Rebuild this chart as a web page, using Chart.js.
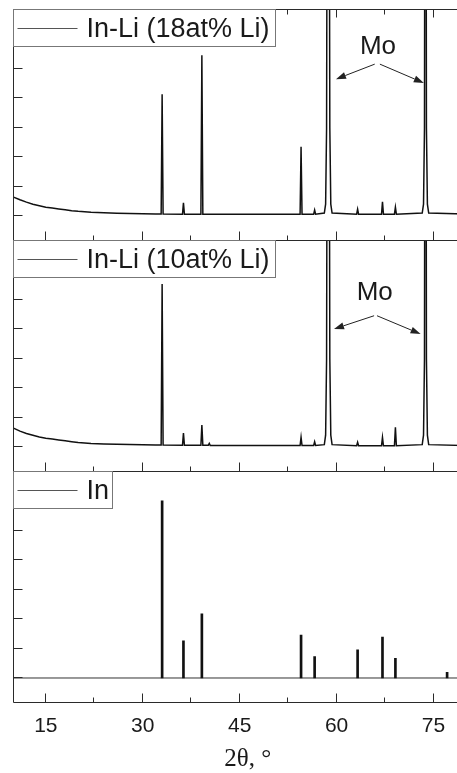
<!DOCTYPE html>
<html>
<head>
<meta charset="utf-8">
<script src="https://cdn.jsdelivr.net/npm/chart.js@4.4.1/dist/chart.umd.min.js"></script>
<style>
  html, body { margin: 0; padding: 0; background: #fff; overflow: hidden; }
  #wrap { position: relative; width: 457px; height: 773px; overflow: hidden; }
  canvas { position: absolute; left: 0; }
</style>
</head>
<body>
<div id="wrap">
  <canvas id="p-li18" width="482" height="246" style="top:0"></canvas>
  <canvas id="p-li10" width="482" height="241" style="top:236px"></canvas>
  <canvas id="p-in" width="482" height="316" style="top:467px"></canvas>
</div>
<script>
// axis ticks
const xTicks = [15, 30, 45, 60, 75];
const xMinorTicks = [22.5, 37.5, 52.5, 67.5, 82.5];
const yTicks = [0, 1, 2, 3, 4, 5, 6, 7];

// In-Li 18at% Li pattern (2theta, intensity in tick units)
const li18X = [10, 11, 12, 13, 14, 15, 16, 17, 18, 19, 20, 22, 24, 26, 28, 30, 32,
  32.85, 33, 33.15, 36.15, 36.3, 36.45, 39, 39.15, 39.3, 54.35, 54.5, 54.65, 56.45, 56.6, 56.75,
  58.1, 58.3, 58.45, 58.7, 58.95, 59.1, 59.3, 63.1, 63.25, 63.4, 66.95, 67.1, 67.25, 68.95, 69.1, 69.25,
  73.25, 73.45, 73.6, 73.75, 73.9, 74.05, 74.25, 82.5];
const li18Y = [0.64, 0.55, 0.47, 0.4, 0.35, 0.3, 0.27, 0.24, 0.21, 0.18, 0.16, 0.13, 0.11, 0.095, 0.085, 0.075, 0.07,
  0.07, 4.14, 0.07, 0.06, 0.45, 0.06, 0.06, 5.46, 0.06, 0.06, 2.35, 0.06, 0.06, 0.2, 0.06,
  0.1, 0.4, 3, 30, 3, 0.4, 0.1, 0.06, 0.23, 0.06, 0.06, 0.48, 0.06, 0.06, 0.3, 0.06,
  0.1, 0.4, 3, 30, 3, 0.4, 0.1, 0.05];

// In-Li 10at% Li pattern
const li10X = [10, 11, 12, 13, 14, 15, 16, 17, 18, 19, 20, 22, 24, 26, 28, 30, 32,
  32.85, 33, 33.15, 36.15, 36.3, 36.45, 39, 39.15, 39.3, 40.15, 40.3, 40.45, 54.35, 54.5, 54.65, 56.45, 56.6, 56.75,
  58.1, 58.3, 58.45, 58.7, 58.95, 59.1, 59.3, 63.1, 63.25, 63.4, 66.95, 67.1, 67.25, 68.95, 69.1, 69.25,
  73.25, 73.45, 73.6, 73.75, 73.9, 74.05, 74.25, 82.5];
const li10Y = [0.64, 0.54, 0.46, 0.4, 0.34, 0.3, 0.27, 0.24, 0.21, 0.18, 0.15, 0.12, 0.105, 0.095, 0.085, 0.08, 0.07,
  0.07, 5.54, 0.07, 0.06, 0.47, 0.06, 0.06, 0.75, 0.06, 0.06, 0.12, 0.05, 0.05, 0.33, 0.05, 0.05, 0.18, 0.05,
  0.08, 0.4, 3, 30, 3, 0.4, 0.08, 0.04, 0.16, 0.04, 0.04, 0.33, 0.04, 0.04, 0.67, 0.04,
  0.08, 0.4, 3, 30, 3, 0.4, 0.08, 0.03];

// In reference lines
const inPos = [33.0, 36.3, 39.15, 54.5, 56.6, 63.25, 67.1, 69.1, 77.1];
const inInt = [6.02, 1.26, 2.18, 1.46, 0.73, 0.96, 1.39, 0.67, 0.19];
const inBaseX = [10, 82.5];
const inBaseY = [0, 0];

const toPts = (xs, ys) => xs.map((x, i) => ({ x, y: ys[i] }));
const crisp = (v) => Math.round(v) - 0.5;

// frame, inward ticks, boxed legend and "Mo" arrows
const framePlugin = {
  id: "frame",
  afterDraw(chart, args, opts) {
    const { ctx, chartArea: a, scales: { x, y } } = chart;
    const L = crisp(a.left), B = crisp(a.bottom), T = crisp(a.top), R = a.right;
    ctx.save();
    ctx.strokeStyle = "#2a2a2a";
    ctx.lineWidth = 1;
    ctx.beginPath();
    ctx.moveTo(L, T); ctx.lineTo(L, B); ctx.lineTo(R, B);
    if (opts.topAxis) { ctx.moveTo(L, T); ctx.lineTo(R, T); }
    xTicks.forEach((v) => {
      const X = crisp(x.getPixelForValue(v));
      ctx.moveTo(X, B); ctx.lineTo(X, B - 9);
      if (opts.topAxis) { ctx.moveTo(X, T); ctx.lineTo(X, T + 8); }
    });
    xMinorTicks.forEach((v) => {
      const X = crisp(x.getPixelForValue(v));
      ctx.moveTo(X, B); ctx.lineTo(X, B - 5);
      if (opts.topAxis) { ctx.moveTo(X, T); ctx.lineTo(X, T + 5); }
    });
    yTicks.forEach((v) => {
      const Y = crisp(y.getPixelForValue(v));
      if (Y <= T + 1) return;
      ctx.moveTo(L, Y); ctx.lineTo(L + 9, Y);
    });
    ctx.stroke();

    // legend box
    const lx = L, ly = T, lw = opts.legendWidth, lh = 37;
    ctx.fillStyle = "#fff";
    ctx.fillRect(lx, ly, lw, lh);
    ctx.strokeStyle = "#777";
    ctx.strokeRect(lx, ly, lw, lh);
    ctx.strokeStyle = "#555";
    ctx.beginPath();
    ctx.moveTo(lx + 4, ly + 19); ctx.lineTo(lx + 64, ly + 19);
    ctx.stroke();
    ctx.fillStyle = "#1a1a1a";
    ctx.font = "27px 'Liberation Sans', Arial, sans-serif";
    ctx.textBaseline = "middle";
    ctx.textAlign = "left";
    ctx.fillText(chart.data.datasets[0].label, lx + 73, ly + 20);

    if (opts.mo) {
      const m = opts.mo;
      ctx.font = "26px 'Liberation Sans', Arial, sans-serif";
      ctx.textAlign = "center";
      ctx.fillText("Mo", x.getPixelForValue(m.text[0]), y.getPixelForValue(m.text[1]));
      ctx.strokeStyle = "#222";
      ctx.fillStyle = "#222";
      m.arrows.forEach(([x0, y0, x1, y1]) => {
        const sx = x.getPixelForValue(x0), sy = y.getPixelForValue(y0);
        const ex = x.getPixelForValue(x1), ey = y.getPixelForValue(y1);
        const ang = Math.atan2(ey - sy, ex - sx);
        const hl = 10, hw = 3.5;
        ctx.beginPath();
        ctx.moveTo(sx, sy);
        ctx.lineTo(ex - hl * Math.cos(ang), ey - hl * Math.sin(ang));
        ctx.stroke();
        ctx.beginPath();
        ctx.moveTo(ex, ey);
        ctx.lineTo(ex - hl * Math.cos(ang) + hw * Math.sin(ang), ey - hl * Math.sin(ang) - hw * Math.cos(ang));
        ctx.lineTo(ex - hl * Math.cos(ang) - hw * Math.sin(ang), ey - hl * Math.sin(ang) + hw * Math.cos(ang));
        ctx.closePath();
        ctx.fill();
      });
    }
    ctx.restore();
  }
};

function baseOptions(padding, frame) {
  return {
    responsive: false,
    animation: false,
    events: [],
    layout: { padding },
    plugins: { legend: { display: false }, tooltip: { enabled: false }, frame },
    scales: {
      x: { type: "linear", min: 10, max: 82.5, offset: false, display: false },
      y: { type: "linear", min: -0.85, max: 7, display: false }
    }
  };
}

function patternChart(id, label, xs, ys, padding, frame) {
  return new Chart(document.getElementById(id), {
    type: "line",
    data: {
      datasets: [{
        label,
        data: toPts(xs, ys),
        borderColor: "#111",
        borderWidth: 1.5,
        pointRadius: 0,
        tension: 0
      }]
    },
    options: baseOptions(padding, frame),
    plugins: [framePlugin]
  });
}

patternChart("p-li18", "In-Li (18at% Li)", li18X, li18Y,
  { top: 10, bottom: 5, left: 13.5, right: 0 },
  { topAxis: true, legendWidth: 262, mo: { text: [66.4, 5.76], arrows: [[65.9, 5.16, 59.9, 4.65], [66.7, 5.16, 73.5, 4.52]] } });

patternChart("p-li10", "In-Li (10at% Li)", li10X, li10Y,
  { top: 5, bottom: 5, left: 13.5, right: 0 },
  { topAxis: false, legendWidth: 262, mo: { text: [65.9, 5.23], arrows: [[65.8, 4.46, 59.6, 4.01], [66.25, 4.46, 73.0, 3.84]] } });

const inOptions = baseOptions({ top: 5, bottom: 0, left: 13.5, right: 0 }, { topAxis: false, legendWidth: 99 });
inOptions.scales.x = {
  type: "linear",
  min: 10,
  max: 82.5,
  offset: false,
  grid: { display: false, drawTicks: false },
  border: { display: false },
  afterBuildTicks: (s) => { s.ticks = xTicks.map((v) => ({ value: v })); },
  afterFit: (s) => { s.height = 80; },
  ticks: { padding: 11, color: "#1a1a1a", maxRotation: 0, font: { family: "'Liberation Sans', Arial, sans-serif", size: 21 } },
  title: {
    display: true,
    text: "2θ, °",
    color: "#1a1a1a",
    font: { family: "'Liberation Serif', 'Times New Roman', serif", size: 25 },
    padding: { top: 0, bottom: 9 }
  }
};

new Chart(document.getElementById("p-in"), {
  type: "line",
  data: {
    datasets: [
      { type: "bar", label: "In", data: toPts(inPos, inInt), backgroundColor: "#111", barThickness: 2, borderWidth: 0 },
      { type: "line", label: "baseline", data: toPts(inBaseX, inBaseY), borderColor: "#333", borderWidth: 1, pointRadius: 0 }
    ]
  },
  options: inOptions,
  plugins: [framePlugin]
});
</script>
</body>
</html>
